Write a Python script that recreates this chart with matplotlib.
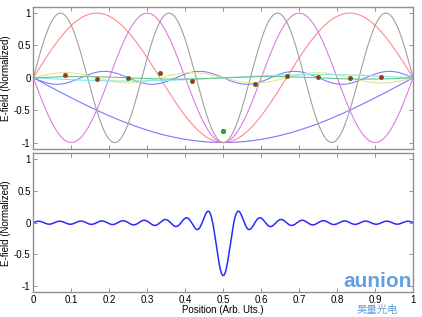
import numpy as np
import matplotlib
matplotlib.use("Agg")
import matplotlib.pyplot as plt

plt.rcParams['font.family'] = ['Liberation Sans', 'DejaVu Sans']
plt.rcParams['axes.unicode_minus'] = False

# top panel: individual modes sin(n*pi*x), amplitude
mode_n = [1, 3, 5, 7, 8, 6, 2, 4]
mode_amp = [-1.0, 1.0, -1.0, 1.0, -0.10, 0.08, -0.05, 0.02]
mode_colors = ['#7878ff', '#ff8a8a', '#e07ce0', '#a0a0a0',
               '#8080ff', '#e6e68c', '#86e6e6', '#6cc490']

# sampled field (dots)
dot_x = [1/12, 2/12, 3/12, 4/12, 5/12, 6/12, 7/12, 8/12, 9/12, 10/12, 11/12]
dot_y = [0.04, -0.02, -0.005, 0.07, -0.055, -0.815, -0.09, 0.026, 0.016, -0.01, 0.016]

# bottom panel: superposition of odd modes 1..35, equal weights
sum_n = [1, 3, 5, 7, 9, 11, 13, 15, 17, 19, 21, 23, 25, 27, 29, 31, 33, 35]
sum_w = [-0.0465, 0.0465, -0.0465, 0.0465, -0.0465, 0.0465, -0.0465, 0.0465, -0.0465,
         0.0465, -0.0465, 0.0465, -0.0465, 0.0465, -0.0465, 0.0465, -0.0465, 0.0465]

x = np.linspace(0, 1, 1500)

fig = plt.figure(figsize=(4.22, 3.17), dpi=100)
ax1 = fig.add_axes([0.079, 0.530, 0.900, 0.449])
ax2 = fig.add_axes([0.079, 0.078, 0.900, 0.439])

for n, a, c in zip(mode_n, mode_amp, mode_colors):
    ax1.plot(x, a * np.sin(n * np.pi * x), color=c, lw=0.8)

ax1.plot(dot_x[:5] + dot_x[6:], dot_y[:5] + dot_y[6:], 'o', ms=3,
         mfc='#c81e1e', mec='#2e8b2e', mew=0.6, ls='none')
ax1.plot(dot_x[5], dot_y[5], 'o', ms=3, mfc='#2eb82e', mec='#1e6e1e', mew=0.6)

field = np.zeros_like(x)
for n, w in zip(sum_n, sum_w):
    field += w * np.sin(n * np.pi * x)
ax2.plot(x, field, color='#2a2aff', lw=1.1)

for ax in (ax1, ax2):
    ax.set_xlim(0, 1)
    ax.set_ylim(-1.1, 1.1)
    ax.set_xticks(np.arange(0, 1.01, 0.1))
    ax.set_yticks([-1, -0.5, 0, 0.5, 1])
    ax.set_yticklabels(['-1', '-0.5', '0', '0.5', '1'])
    ax.tick_params(direction='in', length=3, width=0.6, colors='#808080',
                   labelcolor='black', labelsize=7, top=True, right=True, pad=2)
    for s in ax.spines.values():
        s.set_color('#909090')
        s.set_linewidth(1.0)
    ax.set_ylabel('E-field (Normalized)', fontsize=7, labelpad=2)

ax1.set_xticklabels([])
ax2.set_xticklabels(['0', '0.1', '0.2', '0.3', '0.4', '0.5', '0.6', '0.7', '0.8', '0.9', '1'])
ax2.set_xlabel('Position (Arb. Uts.)', fontsize=7, labelpad=0)

# watermark
fig.text(0.895, 0.082, 'aunion', color='#4a8fd6', fontsize=15, fontweight='bold',
         ha='center', va='bottom', alpha=0.85)
fig.text(0.895, 0.005, '昊量光电', color='#4a8fd6', fontsize=7.5,
         family=['Noto Sans CJK SC', 'DejaVu Sans'], ha='center', va='bottom', alpha=0.85)

fig.savefig('out.png', dpi=100)
